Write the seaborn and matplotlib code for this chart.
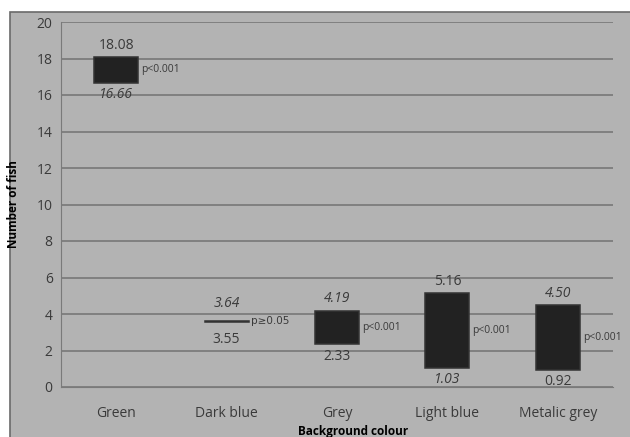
import numpy as np
import pandas as pd
import seaborn as sns
import matplotlib.pyplot as plt
from matplotlib.patches import Rectangle

# data
colours = ['Green', 'Dark blue', 'Grey', 'Light blue', 'Metalic grey']
low = [16.66, 3.55, 2.33, 1.03, 0.92]
high = [18.08, 3.64, 4.19, 5.16, 4.50]
p_text = ['p<0.001', 'p\u22650.05', 'p<0.001', 'p<0.001', 'p<0.001']
high_italic = [False, True, True, False, True]
low_italic = [True, False, False, True, False]

df = pd.DataFrame({'colour': colours, 'low': low, 'high': high})
df['span'] = df['high'] - df['low']

bg = '#b3b3b3'
txt = '#3a3a3a'
sns.set_style('white')
plt.rcParams['font.family'] = ['Open Sans', 'DejaVu Sans']

fig = plt.figure(figsize=(6.3, 4.37), dpi=100, facecolor='white')
# grey chart area with dark border at top/left
fig.patches.append(Rectangle((10 / 630, -0.01), 1, 1.01 - 12 / 437, transform=fig.transFigure,
                             facecolor=bg, edgecolor='#6a6a6a', lw=1.2, zorder=-5))
ax = fig.add_axes([61 / 630, 50 / 437, 552 / 630, 365 / 437])
ax.set_zorder(2)
ax.set_facecolor(bg)

sns.barplot(data=df, x='colour', y='span', bottom=df['low'], color='#222222',
            width=0.4, edgecolor='#333333', linewidth=1.1, saturation=1, ax=ax, zorder=3)

ax.set_ylim(0, 20)
ax.set_yticks(np.arange(0, 21, 2))
ax.yaxis.grid(True, color='#737373', lw=1.1)
ax.set_axisbelow(True)
for s in ['top', 'right']:
    ax.spines[s].set_visible(False)
for s in ['left', 'bottom']:
    ax.spines[s].set_color('#7a7a7a')
ax.tick_params(axis='both', length=0, colors=txt, labelsize=10, pad=6)
ax.tick_params(axis='x', pad=14)

for i in range(len(colours)):
    # thin bars get a bit more room for their labels
    gap = 3 if high[i] - low[i] > 0.5 else 7
    ax.annotate(f'{high[i]:.2f}', (i, high[i]), xytext=(0, gap), textcoords='offset points',
                ha='center', va='bottom', fontsize=10, color=txt,
                style='italic' if high_italic[i] else 'normal')
    ax.annotate(f'{low[i]:.2f}', (i, low[i]), xytext=(0, -gap), textcoords='offset points',
                ha='center', va='top', fontsize=10, color=txt,
                style='italic' if low_italic[i] else 'normal')
    ax.annotate(p_text[i], (i + 0.2, (low[i] + high[i]) / 2), xytext=(2, 0),
                textcoords='offset points', ha='left', va='center', fontsize=7.5,
                color=txt, family=['DejaVu Sans'] if '\u2265' in p_text[i] else None)

ax.set_xlabel('Background colour', fontsize=8.5, fontweight='bold', color='black')
ax.xaxis.set_label_coords(0.53, -0.105)
ax.set_ylabel('Number of fish', fontsize=8.5, fontweight='bold', color='black')
ax.yaxis.set_label_coords(-0.075, 0.5)

fig.savefig('out.png', dpi=100, facecolor=fig.get_facecolor())
